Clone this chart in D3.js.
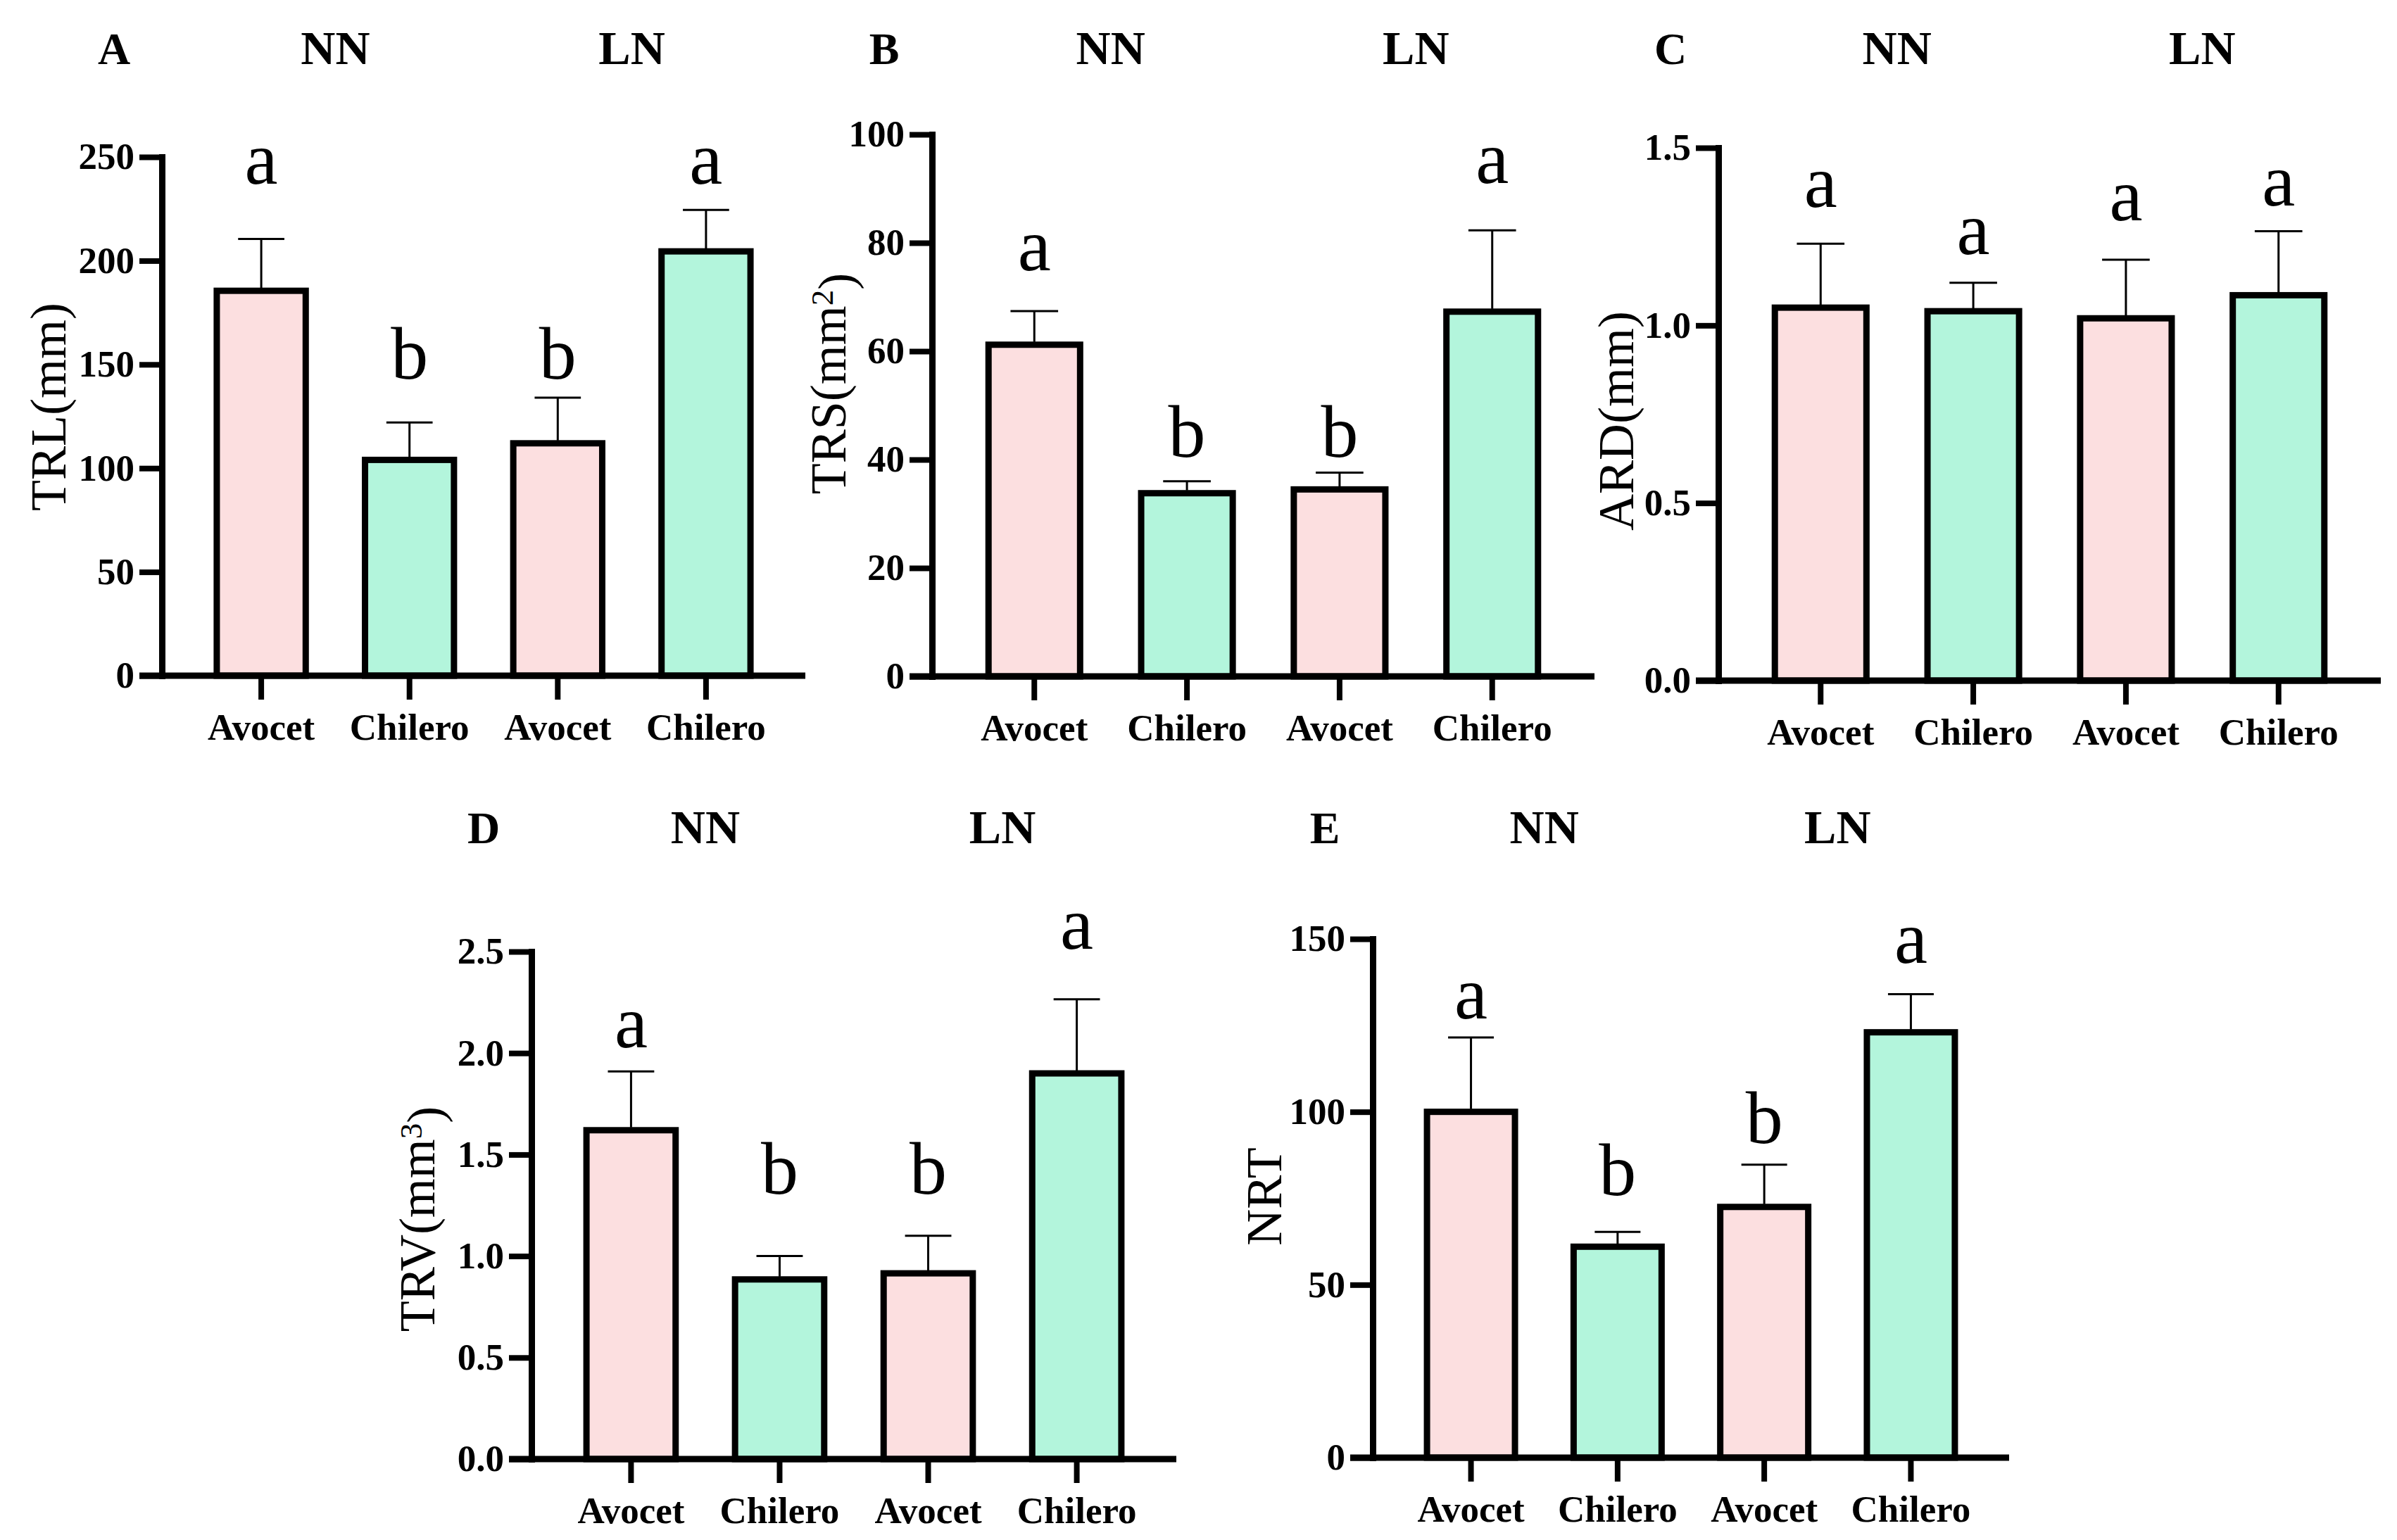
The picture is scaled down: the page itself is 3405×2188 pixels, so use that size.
<!DOCTYPE html>
<html>
<head>
<meta charset="utf-8">
<script src="https://cdn.jsdelivr.net/npm/d3@7"></script>
<style>
  body { margin: 0; background: #fff; }
  text { font-family: "Liberation Serif", "Times New Roman", serif; }
</style>
</head>
<body>
<svg id="chart"></svg>
<script>
var WIDTH = 3405;
var HEIGHT = 2188;

//categories shared by all five panels
var categories = ["Avocet", "Chilero", "Avocet", "Chilero"];
var groups = ["NN", "LN"];
var panelIds = ["A", "B", "C", "D", "E"];

//y axis titles (main part, superscript, closing part)
var yTitleMain = ["TRL(mm)", "TRS(mm", "ARD(mm)", "TRV(mm", "NRT"];
var yTitleSup = ["", "2", "", "3", ""];
var yTitleEnd = ["", ")", "", ")", ""];

//A: total root length
var trlMean = [185.5, 104, 112, 204.5];
var trlErr = [25, 18, 22, 20];
var trlLetter = ["a", "b", "b", "a"];
var trlLetterAt = [237, 143, 143, 237];
var trlTicks = [0, 50, 100, 150, 200, 250];

//B: total root surface
var trsMean = [61.2, 33.8, 34.5, 67.3];
var trsErr = [6.2, 2.2, 3.1, 15];
var trsLetter = ["a", "b", "b", "a"];
var trsLetterAt = [75, 40.5, 40.5, 91];
var trsTicks = [0, 20, 40, 60, 80, 100];

//C: average root diameter
var ardMean = [1.05, 1.04, 1.02, 1.085];
var ardErr = [0.18, 0.08, 0.165, 0.18];
var ardLetter = ["a", "a", "a", "a"];
var ardLetterAt = [1.333, 1.2, 1.296, 1.337];
var ardTicks = [0, 0.5, 1.0, 1.5];

//D: total root volume
var trvMean = [1.62, 0.885, 0.915, 1.9];
var trvErr = [0.29, 0.115, 0.185, 0.365];
var trvLetter = ["a", "b", "b", "a"];
var trvLetterAt = [2.03, 1.307, 1.307, 2.514];
var trvTicks = [0, 0.5, 1.0, 1.5, 2.0, 2.5];

//E: number of root tips
var nrtMean = [100, 61, 72.5, 123];
var nrtErr = [21.5, 4.3, 12.2, 11];
var nrtLetter = ["a", "b", "b", "a"];
var nrtLetterAt = [127, 76, 91, 143];
var nrtTicks = [0, 50, 100, 150];

var barColors = ["#fcdfe0", "#b3f5dc"];

//where each panel sits on the page
var frames = [
    {axisX: 230, top: 223, zero: 960, xEnd: 1144, headY: 91, titleX: 68, titleY: 578, fmt: "d"},
    {axisX: 1324, top: 191, zero: 961, xEnd: 2265, headY: 91, titleX: 1176, titleY: 545, fmt: "d"},
    {axisX: 2441, top: 210, zero: 967, xEnd: 3382, headY: 91, titleX: 2295, titleY: 598, fmt: ".1f"},
    {axisX: 755, top: 1352, zero: 2073, xEnd: 1671, headY: 1198, titleX: 592, titleY: 1732, fmt: ".1f"},
    {axisX: 1950, top: 1334, zero: 2071, xEnd: 2854, headY: 1198, titleX: 1795, titleY: 1700, fmt: "d"}
];

var panelData = [
    {mean: trlMean, err: trlErr, letter: trlLetter, letterAt: trlLetterAt, ticks: trlTicks},
    {mean: trsMean, err: trsErr, letter: trsLetter, letterAt: trsLetterAt, ticks: trsTicks},
    {mean: ardMean, err: ardErr, letter: ardLetter, letterAt: ardLetterAt, ticks: ardTicks},
    {mean: trvMean, err: trvErr, letter: trvLetter, letterAt: trvLetterAt, ticks: trvTicks},
    {mean: nrtMean, err: nrtErr, letter: nrtLetter, letterAt: nrtLetterAt, ticks: nrtTicks}
];

var svg = d3.select("#chart")
    .attr("width", WIDTH)
    .attr("height", HEIGHT)
    .style("background", "#fff");

panelIds.forEach(function(id, p) {
    var f = frames[p];
    var d = panelData[p];
    var idx = d3.range(categories.length);

    var x = d3.scaleBand()
        .domain(idx)
        .range([f.axisX, f.xEnd])
        .paddingInner(0.4)
        .paddingOuter(0.37);

    var y = d3.scaleLinear()
        .domain([0, d3.max(d.ticks)])
        .range([f.zero, f.top]);

    var g = svg.append("g");
    var cx = function(i) { return x(i) + x.bandwidth() / 2; };

    //bars
    g.selectAll("rect.bar")
        .data(idx)
        .enter()
        .append("rect")
        .attr("class", "bar")
        .attr("x", function(i) { return x(i); })
        .attr("width", x.bandwidth())
        .attr("y", function(i) { return y(d.mean[i]); })
        .attr("height", function(i) { return y(0) - y(d.mean[i]); })
        .attr("fill", function(i) { return barColors[i % 2]; })
        .attr("stroke", "#000")
        .attr("stroke-width", 9);

    //error bars (upper half only)
    var capHalf = x.bandwidth() * 0.26;
    g.selectAll("line.err")
        .data(idx)
        .enter()
        .append("line")
        .attr("class", "err")
        .attr("x1", cx).attr("x2", cx)
        .attr("y1", function(i) { return y(d.mean[i]) - 4; })
        .attr("y2", function(i) { return y(d.mean[i] + d.err[i]); })
        .attr("stroke", "#000")
        .attr("stroke-width", 3);
    g.selectAll("line.cap")
        .data(idx)
        .enter()
        .append("line")
        .attr("class", "cap")
        .attr("x1", function(i) { return cx(i) - capHalf; })
        .attr("x2", function(i) { return cx(i) + capHalf; })
        .attr("y1", function(i) { return y(d.mean[i] + d.err[i]); })
        .attr("y2", function(i) { return y(d.mean[i] + d.err[i]); })
        .attr("stroke", "#000")
        .attr("stroke-width", 3);

    //significance letters
    g.selectAll("text.sig")
        .data(idx)
        .enter()
        .append("text")
        .attr("class", "sig")
        .attr("x", cx)
        .attr("y", function(i) { return y(d.letterAt[i]); })
        .attr("text-anchor", "middle")
        .attr("font-size", 106)
        .text(function(i) { return d.letter[i]; });

    //y axis
    var yAxis = d3.axisLeft(y)
        .tickValues(d.ticks)
        .tickFormat(d3.format(f.fmt))
        .tickSize(32)
        .tickSizeOuter(0)
        .tickPadding(7);
    var ya = g.append("g")
        .attr("transform", "translate(" + f.axisX + ",0)")
        .call(yAxis);
    ya.select(".domain").attr("stroke-width", 9).attr("stroke-linecap", "square");
    ya.selectAll(".tick line").attr("stroke-width", 8);
    ya.selectAll(".tick text")
        .attr("font-size", 53)
        .attr("font-weight", "bold")
        .attr("font-family", "Liberation Serif")
        .attr("fill", "#000");

    //x axis
    var xAxis = d3.axisBottom(x)
        .tickFormat(function(i) { return categories[i]; })
        .tickSize(34)
        .tickSizeOuter(0)
        .tickPadding(19);
    var xa = g.append("g")
        .attr("transform", "translate(0," + f.zero + ")")
        .call(xAxis);
    xa.select(".domain").remove();
    xa.selectAll(".tick line").attr("stroke-width", 8);
    xa.selectAll(".tick text")
        .attr("font-size", 53)
        .attr("font-weight", "bold")
        .attr("font-family", "Liberation Serif")
        .attr("fill", "#000");
    g.append("line")
        .attr("x1", f.axisX - 32)
        .attr("x2", x.range()[1])
        .attr("y1", y(0))
        .attr("y2", y(0))
        .attr("stroke", "#000")
        .attr("stroke-width", 9);

    //y axis title
    var t = g.append("text")
        .attr("transform", "translate(" + f.titleX + "," + f.titleY + ") rotate(-90)")
        .attr("text-anchor", "middle")
        .attr("dy", "0.35em")
        .attr("font-size", 72);
    t.append("tspan").text(yTitleMain[p]);
    if (yTitleSup[p]) {
        t.append("tspan").attr("dy", "-0.4em").attr("font-size", 45).text(yTitleSup[p]);
        t.append("tspan").attr("dy", "0.4em").text(yTitleEnd[p]);
    }

    //panel letter and group headings
    g.append("text")
        .attr("x", f.axisX - 68)
        .attr("y", f.headY)
        .attr("text-anchor", "middle")
        .attr("font-size", 64)
        .attr("font-weight", "bold")
        .text(id);
    groups.forEach(function(name, k) {
        g.append("text")
            .attr("x", (cx(2 * k) + cx(2 * k + 1)) / 2)
            .attr("y", f.headY)
            .attr("text-anchor", "middle")
            .attr("font-size", 68)
            .attr("font-weight", "bold")
            .text(name);
    });
});
</script>
</body>
</html>
